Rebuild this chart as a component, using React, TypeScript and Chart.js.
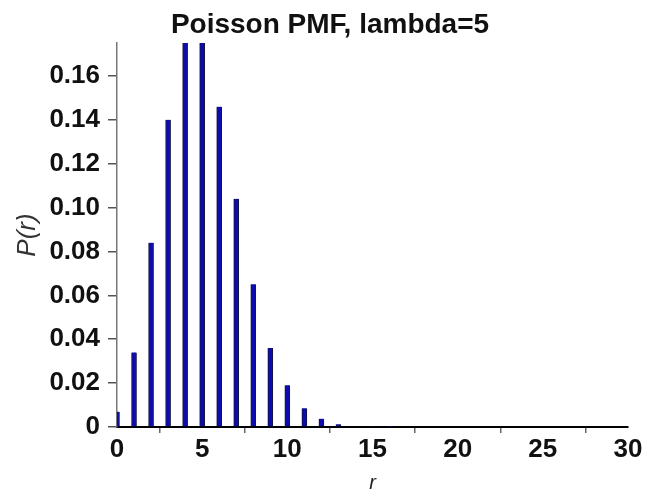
import React, { useEffect, useRef } from "react";
import { Chart, registerables } from "chart.js";

Chart.register(...registerables);

const titleText = "Poisson PMF, lambda=5";
const xLabel = "r";
const yLabel = "P(r)";
const rValues = [0, 1, 2, 3, 4, 5, 6, 7, 8, 9, 10, 11, 12, 13, 14, 15, 16, 17, 18, 19, 20, 21, 22, 23, 24, 25, 26, 27, 28, 29, 30];
const pmfValues = [0.007, 0.034, 0.084, 0.14, 0.175, 0.175, 0.146, 0.104, 0.065, 0.036, 0.019, 0.0085, 0.0038, 0.0013, 0.0005, 0.0002, 0.0001, 0, 0, 0, 0, 0, 0, 0, 0, 0, 0, 0, 0, 0, 0];
const xTicksStep = 5;
const yTicksStep = 0.02;
const yMax = 0.175;
const xMax = 30;

const W = 646;
const H = 493;
const PLOT_LEFT = 117;
const PLOT_RIGHT = 628;
const PLOT_TOP = 43;
const PLOT_BOTTOM = 427;

const titlePlugin = {
  id: "customTitle",
  afterDraw(chart: any) {
    const ctx = chart.ctx;
    ctx.save();
    ctx.font = "bold 28px 'Liberation Sans', Arial, sans-serif";
    ctx.fillStyle = "#111";
    ctx.textAlign = "center";
    ctx.textBaseline = "middle";
    ctx.fillText(titleText, 330, 25);
    ctx.restore();
  },
};

export default function App() {
  const ref = useRef<HTMLCanvasElement | null>(null);
  useEffect(() => {
    if (!ref.current) return;
    const data = rValues.map((r, i) => ({ x: r, y: pmfValues[i] }));
    const chart = new Chart(ref.current, {
      type: "bar",
      data: {
        datasets: [
          {
            data: data as any,
            backgroundColor: "#0c0cb0",
            borderColor: "#15153a",
            borderWidth: { left: 1, right: 1, top: 0, bottom: 0 } as any,
            barThickness: 5,
            grouped: false,
          } as any,
        ],
      },
      plugins: [titlePlugin],
      options: {
        responsive: false,
        animation: false,
        devicePixelRatio: 1,
        layout: { padding: { left: 0, right: W - PLOT_RIGHT, top: PLOT_TOP, bottom: 0 } },
        plugins: {
          legend: { display: false },
          tooltip: { enabled: false },
          title: { display: false },
        },
        scales: {
          x: {
            type: "linear",
            min: 0,
            max: xMax,
            offset: false,
            ticks: {
              stepSize: xTicksStep,
              color: "#111",
              font: { family: "'Liberation Sans', Arial, sans-serif", size: 26, weight: "bold" },
              padding: 1,
              maxRotation: 0,
              autoSkip: false,
              includeBounds: false,
            },
            grid: { drawOnChartArea: false, drawTicks: true, tickLength: 6, color: "#666", lineWidth: 1.5 },
            border: { display: true, color: "#000", width: 2 },
            title: {
              display: true,
              text: xLabel,
              color: "#222",
              font: { family: "'Liberation Sans', Arial, sans-serif", size: 20, style: "italic", lineHeight: 1 },
              padding: { top: 0, bottom: 0 },
            },
            afterFit(scale: any) {
              scale.height = H - PLOT_BOTTOM;
            },
          },
          y: {
            type: "linear",
            min: 0,
            max: yMax,
            ticks: {
              stepSize: yTicksStep,
              includeBounds: false,
              color: "#111",
              font: { family: "'Liberation Sans', Arial, sans-serif", size: 26, weight: "bold" },
              padding: 8,
              callback: (v: any) => (Number(v) === 0 ? "0" : Number(v).toFixed(2)),
            },
            grid: { drawOnChartArea: false, drawTicks: true, tickLength: 9, color: "#555", lineWidth: 1.5 },
            border: { display: true, color: "#777", width: 1.5 },
            title: {
              display: true,
              text: yLabel,
              color: "#333",
              font: { family: "'Liberation Sans', Arial, sans-serif", size: 26, style: "italic", lineHeight: 1 },
              padding: { top: 15, bottom: 0 },
            },
            afterFit(scale: any) {
              scale.width = PLOT_LEFT;
            },
          },
        },
      } as any,
    });
    return () => chart.destroy();
  }, []);
  return (
    <div style={{ position: "fixed", left: 0, top: 0, width: W, height: H, background: "#fff" }}>
      <canvas ref={ref} width={W} height={H} style={{ width: W, height: H, display: "block" }} />
    </div>
  );
}
